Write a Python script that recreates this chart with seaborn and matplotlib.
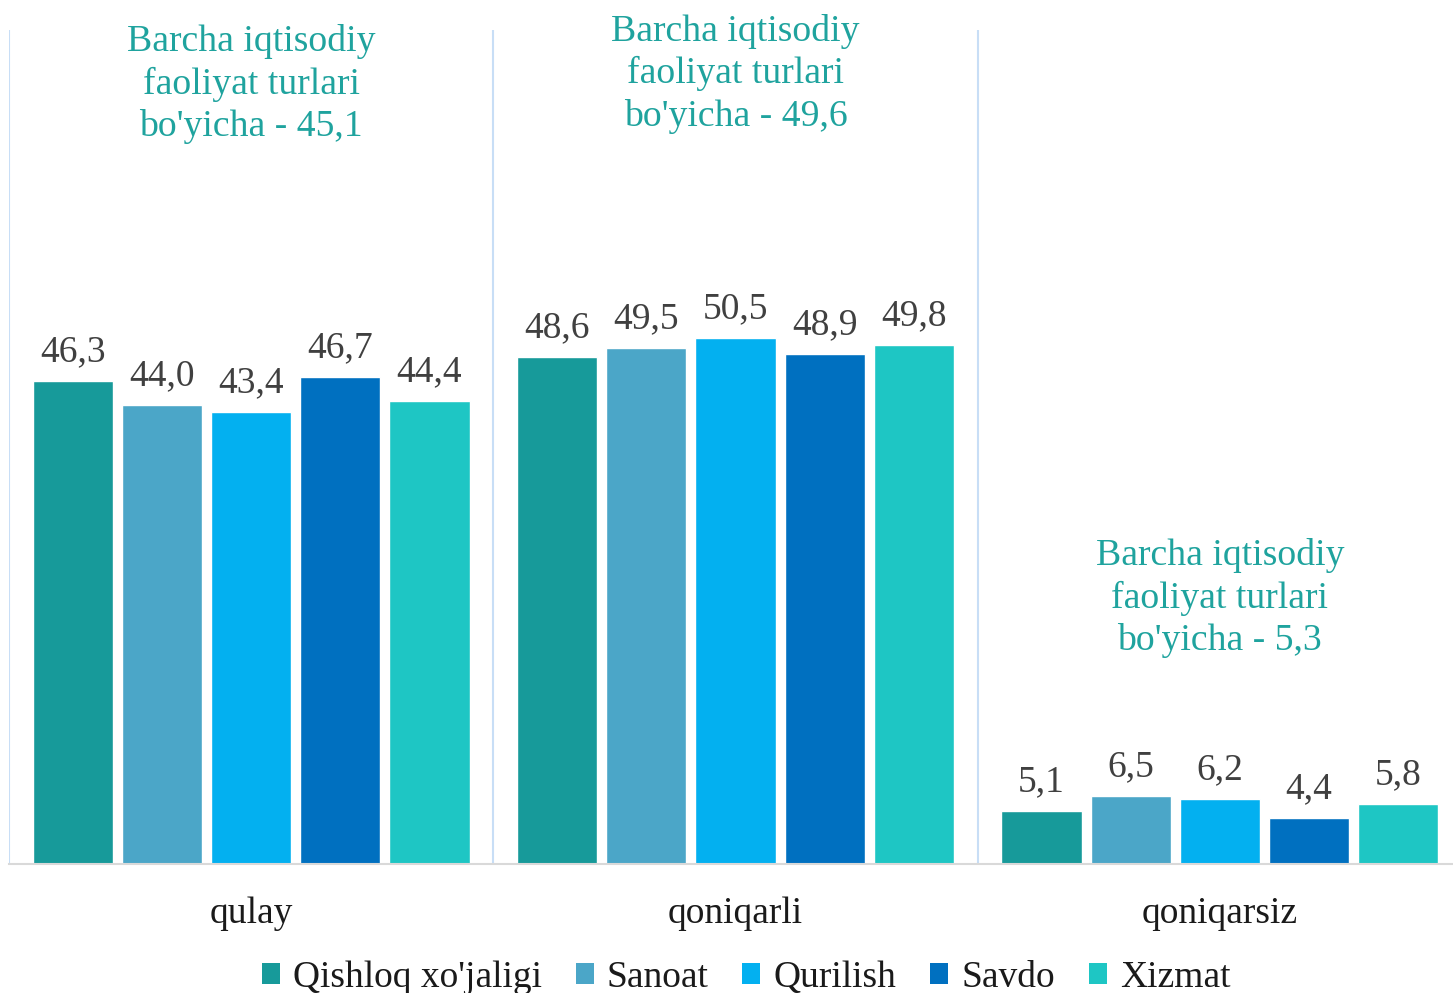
import matplotlib
matplotlib.use("Agg")
import matplotlib.pyplot as plt
import seaborn as sns
import pandas as pd
from matplotlib.patches import Patch

# Categories (rating), sectors and shares (%)
categories = ["qulay", "qoniqarli", "qoniqarsiz"]
sectors = ["Qishloq xo'jaligi", "Sanoat", "Qurilish", "Savdo", "Xizmat"]
qishloq = [46.3, 48.6, 5.1]
sanoat = [44.0, 49.5, 6.5]
qurilish = [43.4, 50.5, 6.2]
savdo = [46.7, 48.9, 4.4]
xizmat = [44.4, 49.8, 5.8]
overall = [45.1, 49.6, 5.3]
overall_y = [74.8, 75.8, 25.5]

colors = ["#179A9A", "#4BA6C8", "#03B0F0", "#0070C0", "#1EC6C4"]
note_color = "#1FA39E"

rows = []
for sector, vals in zip(sectors, [qishloq, sanoat, qurilish, savdo, xizmat]):
    for cat, v in zip(categories, vals):
        rows.append({"category": cat, "sector": sector, "value": v})
df = pd.DataFrame(rows)

sns.set_theme(style="white")
plt.rcParams["font.family"] = ["Liberation Serif", "DejaVu Serif"]

W, H = 1453, 993
fig = plt.figure(figsize=(W / 100, H / 100), dpi=100)
ax = fig.add_axes([9 / W, (H - 864) / H, 1453 / W, 834 / H])

sns.barplot(data=df, x="category", y="value", hue="sector", order=categories,
            hue_order=sectors, palette=colors, width=0.92, gap=0.1,
            ax=ax, legend=False, saturation=1)

for cont in ax.containers:
    ax.bar_label(cont, labels=[f"{b.get_height():.1f}".replace(".", ",") for b in cont],
                 padding=8.5, fontsize=27, color="#404040")

ax.set_xlim(-0.5, 2.5)
ax.set_ylim(0, 80)
ax.set_yticks([])
ax.set_xlabel("")
ax.set_ylabel("")
ax.tick_params(axis="x", length=0, pad=23.5, labelsize=27, labelcolor="#1a1a1a")

for x in [-0.5, 0.5, 1.5, 2.5]:
    ax.axvline(x, color="#C8DEF6", lw=1.5, zorder=0)

for s in ["top", "left", "right"]:
    ax.spines[s].set_visible(False)
ax.spines["bottom"].set_color("#D9D9D9")
ax.spines["bottom"].set_linewidth(1.5)

for i, (v, yy) in enumerate(zip(overall, overall_y)):
    ax.text(i, yy, f"Barcha iqtisodiy\nfaoliyat turlari\nbo'yicha - {v:.1f}".replace(".", ","),
            ha="center", va="center", fontsize=27.2, color=note_color,
            linespacing=1.27, clip_on=False)

handles = [Patch(facecolor=c, edgecolor="none") for c in colors]
fig.legend(handles, sectors, loc="center", bbox_to_anchor=(746 / W, (H - 978) / H),
           ncol=5, frameon=False, fontsize=27, handlelength=0.48, handleheight=0.48,
           handletextpad=0.35, columnspacing=0.9, labelcolor="#1a1a1a")

fig.savefig("out.png", dpi=100)
